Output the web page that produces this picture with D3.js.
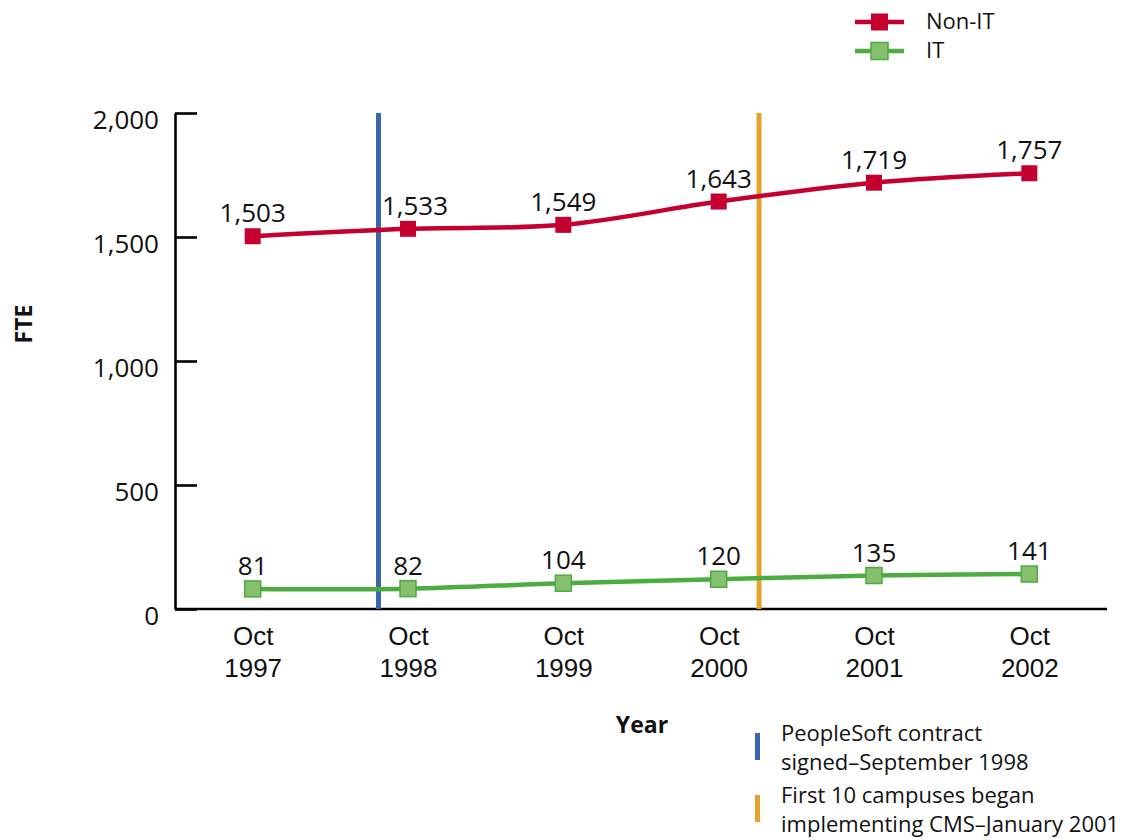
<!DOCTYPE html>
<html>
<head>
<meta charset="utf-8">
<script src="https://cdn.jsdelivr.net/npm/d3@7"></script>
<style>
  body { margin: 0; background: #fff; }
  svg { display: block; font-family: "Open Sans", "Noto Sans", sans-serif; }
</style>
</head>
<body>
<svg id="chart" width="1141" height="840"></svg>
<script>
// Staff counts (FTE) by October of each year
const years = ["1997", "1998", "1999", "2000", "2001", "2002"];
const nonIT = [1503, 1533, 1549, 1643, 1719, 1757];
const it = [81, 82, 104, 120, 135, 141];
const yTicks = [0, 500, 1000, 1500, 2000];

// Milestones, placed along the year index (0 = Oct 1997)
const eventPos = [0.81, 3.26];
const eventLabels = [
  ["PeopleSoft contract", "signed\u2013September 1998"],
  ["First 10 campuses began", "implementing CMS\u2013January 2001"]
];

const colors = {
  nonIT: "#c3002f",
  itLine: "#4dac3f",
  itFill: "#86bf6e",
  events: ["#3d64ae", "#e2a22d"]
};

const svg = d3.select("#chart");
const plot = { left: 175, right: 1107, top: 113, bottom: 609 };

const x = d3.scalePoint().domain(years).range([plot.left, plot.right]).padding(0.5);
const y = d3.scaleLinear().domain([0, 2000]).range([plot.bottom, plot.top]);
const xIdx = d3.scaleLinear().domain([0, years.length - 1])
  .range([x(years[0]), x(years[years.length - 1])]);

// Y axis with inward ticks
const yAxis = svg.append("g")
  .attr("transform", `translate(${plot.left},0)`)
  .call(d3.axisLeft(y).tickValues(yTicks).tickSize(-22).tickSizeOuter(0)
    .tickPadding(16).tickFormat(d3.format(",")));
yAxis.select(".domain").attr("stroke", "#000").attr("stroke-width", 2.6);
yAxis.selectAll(".tick line").attr("stroke", "#000").attr("stroke-width", 2.6);
yAxis.selectAll(".tick text")
  .attr("font-size", 26).attr("fill", "#111").attr("dy", "0.6em")
  .attr("font-family", "'Open Sans', sans-serif");

// X axis baseline and two-line labels
const xAxis = svg.append("g")
  .attr("transform", `translate(0,${plot.bottom})`)
  .call(d3.axisBottom(x).tickSize(0).tickSizeOuter(0).tickFormat(""));
xAxis.select(".domain")
  .attr("d", `M${plot.left},0H${plot.right}`)
  .attr("stroke", "#000").attr("stroke-width", 2.6);
xAxis.selectAll(".tick text").remove();
xAxis.selectAll(".tick").each(function(d) {
  const t = d3.select(this).append("text")
    .attr("text-anchor", "middle").attr("font-size", 26).attr("fill", "#111");
  t.append("tspan").attr("x", 0).attr("y", 36).text("Oct");
  t.append("tspan").attr("x", 0).attr("y", 68).text(d);
});

// Axis titles
svg.append("text").attr("x", 642).attr("y", 733)
  .attr("text-anchor", "middle").attr("font-size", 23).attr("font-weight", "bold")
  .attr("fill", "#111").text("Year");
svg.append("text")
  .attr("transform", "translate(32,324) rotate(-90)")
  .attr("text-anchor", "middle").attr("font-size", 23).attr("font-weight", "bold")
  .attr("fill", "#111").text("FTE");

// Milestone lines
svg.selectAll("line.event").data(eventPos).join("line")
  .attr("class", "event")
  .attr("x1", d => xIdx(d)).attr("x2", d => xIdx(d))
  .attr("y1", y(2000)).attr("y2", y(0))
  .attr("stroke", (d, i) => colors.events[i]).attr("stroke-width", 5);

// Series lines
const line = d3.line()
  .x((d, i) => x(years[i]))
  .y(d => y(d))
  .curve(d3.curveCatmullRom.alpha(0.5));

const series = [
  { key: "nonIT", values: nonIT, stroke: colors.nonIT, fill: colors.nonIT },
  { key: "it", values: it, stroke: colors.itLine, fill: colors.itFill }
];

series.forEach(s => {
  svg.append("path").datum(s.values)
    .attr("d", line).attr("fill", "none")
    .attr("stroke", s.stroke).attr("stroke-width", 4.5);
  svg.selectAll(`rect.m-${s.key}`).data(s.values).join("rect")
    .attr("class", `m-${s.key}`)
    .attr("x", (d, i) => x(years[i]) - 8).attr("y", d => y(d) - 8)
    .attr("width", 16).attr("height", 16)
    .attr("fill", s.fill)
    .attr("stroke", s.key === "it" ? colors.itLine : "none")
    .attr("stroke-width", 1.5);
  svg.selectAll(`text.v-${s.key}`).data(s.values).join("text")
    .attr("class", `v-${s.key}`)
    .attr("x", (d, i) => x(years[i]) + (s.key === "nonIT" && i === 1 ? 7 : 0))
    .attr("y", d => y(d) - 14)
    .attr("text-anchor", "middle").attr("font-size", 26).attr("fill", "#111")
    .text(d => d3.format(",")(d));
});

// Series legend
const legendItems = [
  { label: "Non-IT", stroke: colors.nonIT, fill: colors.nonIT, y: 22, outline: false },
  { label: "IT", stroke: colors.itLine, fill: colors.itFill, y: 51, outline: true }
];
const legend = svg.append("g");
legendItems.forEach(item => {
  legend.append("line").attr("x1", 855).attr("x2", 904)
    .attr("y1", item.y).attr("y2", item.y)
    .attr("stroke", item.stroke).attr("stroke-width", 4.5);
  legend.append("rect").attr("x", 871).attr("y", item.y - 8.5)
    .attr("width", 17).attr("height", 17).attr("fill", item.fill)
    .attr("stroke", item.outline ? item.stroke : "none").attr("stroke-width", 1.5);
  legend.append("text").attr("x", 926).attr("y", item.y + 6.5)
    .attr("font-size", 22).attr("fill", "#111").text(item.label);
});

// Milestone legend
const evLegendY = [733, 795];
eventLabels.forEach((lines, i) => {
  svg.append("rect").attr("x", 755).attr("y", evLegendY[i])
    .attr("width", 5).attr("height", 27).attr("fill", colors.events[i]);
  const t = svg.append("text").attr("font-size", 22).attr("fill", "#111");
  lines.forEach((ln, j) => {
    t.append("tspan").attr("x", 781).attr("y", evLegendY[i] + 8 + j * 29).text(ln);
  });
});
</script>
</body>
</html>
